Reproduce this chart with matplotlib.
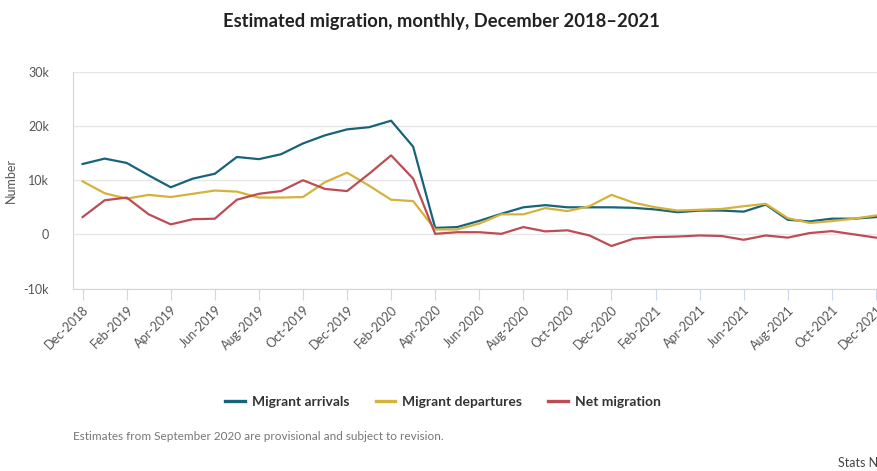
import numpy as np
import matplotlib
matplotlib.use("Agg")
import matplotlib.pyplot as plt

months = ["Dec-2018", "Jan-2019", "Feb-2019", "Mar-2019", "Apr-2019", "May-2019",
          "Jun-2019", "Jul-2019", "Aug-2019", "Sep-2019", "Oct-2019", "Nov-2019",
          "Dec-2019", "Jan-2020", "Feb-2020", "Mar-2020", "Apr-2020", "May-2020",
          "Jun-2020", "Jul-2020", "Aug-2020", "Sep-2020", "Oct-2020", "Nov-2020",
          "Dec-2020", "Jan-2021", "Feb-2021", "Mar-2021", "Apr-2021", "May-2021",
          "Jun-2021", "Jul-2021", "Aug-2021", "Sep-2021", "Oct-2021", "Nov-2021",
          "Dec-2021"]

arrivals = [13000, 14000, 13200, 10900, 8700, 10300, 11200, 14300, 13900, 14800,
            16800, 18300, 19400, 19800, 21000, 16200, 1200, 1350, 2500, 3800,
            5000, 5400, 5000, 5000, 5000, 4900, 4600, 4100, 4400, 4400,
            4200, 5500, 2700, 2400, 2900, 2900, 3200]

departures = [9800, 7600, 6600, 7300, 6900, 7500, 8100, 7900, 6800, 6800,
              6900, 9650, 11400, 9000, 6400, 6150, 900, 900, 2000, 3700,
              3700, 4850, 4300, 5200, 7300, 5850, 5000, 4400, 4550, 4700,
              5200, 5650, 3000, 2100, 2450, 2900, 3500]

net = [3200, 6300, 6800, 3700, 1850, 2800, 2900, 6400, 7500, 8000,
       10000, 8400, 8000, 11200, 14600, 10300, 100, 400, 400, 100,
       1350, 550, 750, -200, -2150, -800, -500, -400, -200, -300,
       -1000, -200, -600, 250, 600, 0, -600]

series = [("Migrant arrivals", arrivals, "#17637a"),
          ("Migrant departures", departures, "#d6b23a"),
          ("Net migration", net, "#bd4c55")]

plt.rcParams["font.family"] = ["Lato", "DejaVu Sans"]

fig = plt.figure(figsize=(8.77, 4.71), dpi=100)
ax = fig.add_axes([72.7 / 877, 1 - 288.5 / 471, (877 - 72.7) / 877, (288.5 - 72) / 471])

x = np.arange(len(months))
for name, vals, col in series:
    ax.plot(x, vals, color=col, lw=1.6, label=name, solid_joinstyle="round")

ax.set_xlim(-0.45, 36.05)
ax.set_ylim(-10000, 30000)
ax.set_yticks([-10000, 0, 10000, 20000, 30000])
ax.set_yticklabels(["-10k", "0", "10k", "20k", "30k"])
ax.grid(axis="y", color="#e6e6e6", lw=1)
ax.set_axisbelow(True)

ax.set_xticks(x[::2])
ax.set_xticklabels(months[::2], rotation=45, ha="right", rotation_mode="anchor")

for s in ["top", "right"]:
    ax.spines[s].set_visible(False)
ax.spines["left"].set_color("#ccd6eb")
ax.spines["bottom"].set_color("#ccd6eb")
ax.tick_params(axis="x", length=8, color="#ccd6eb", labelsize=9, labelcolor="#555555", pad=3)
ax.tick_params(axis="y", length=0, labelsize=9, labelcolor="#555555", pad=17)

ax.set_ylabel("Number", fontsize=9, color="#555555")
ax.yaxis.set_label_coords(-0.069, 0.5)

fig.text(441 / 877, 1 - 21 / 471, "Estimated migration, monthly, December 2018\u20132021",
         ha="center", va="center", fontsize=13.2, fontweight="bold", color="#222222")

leg = fig.legend(loc="center", bbox_to_anchor=(443 / 877, 1 - 402 / 471), ncol=3,
                 frameon=False, fontsize=10, handlelength=1.4, columnspacing=1.9,
                 handletextpad=0.5)
for t in leg.get_texts():
    t.set_fontweight("bold")
    t.set_color("#333333")
for h in leg.get_lines():
    h.set_linewidth(2.4)

fig.text(73 / 877, 1 - 437 / 471, "Estimates from September 2020 are provisional and subject to revision.",
         ha="left", va="center", fontsize=8.5, color="#777777")
fig.text(838 / 877, 1 - 463 / 471, "Stats NZ", ha="left", va="center",
         fontsize=9, color="#444444")

fig.savefig("out.png", dpi=100)
